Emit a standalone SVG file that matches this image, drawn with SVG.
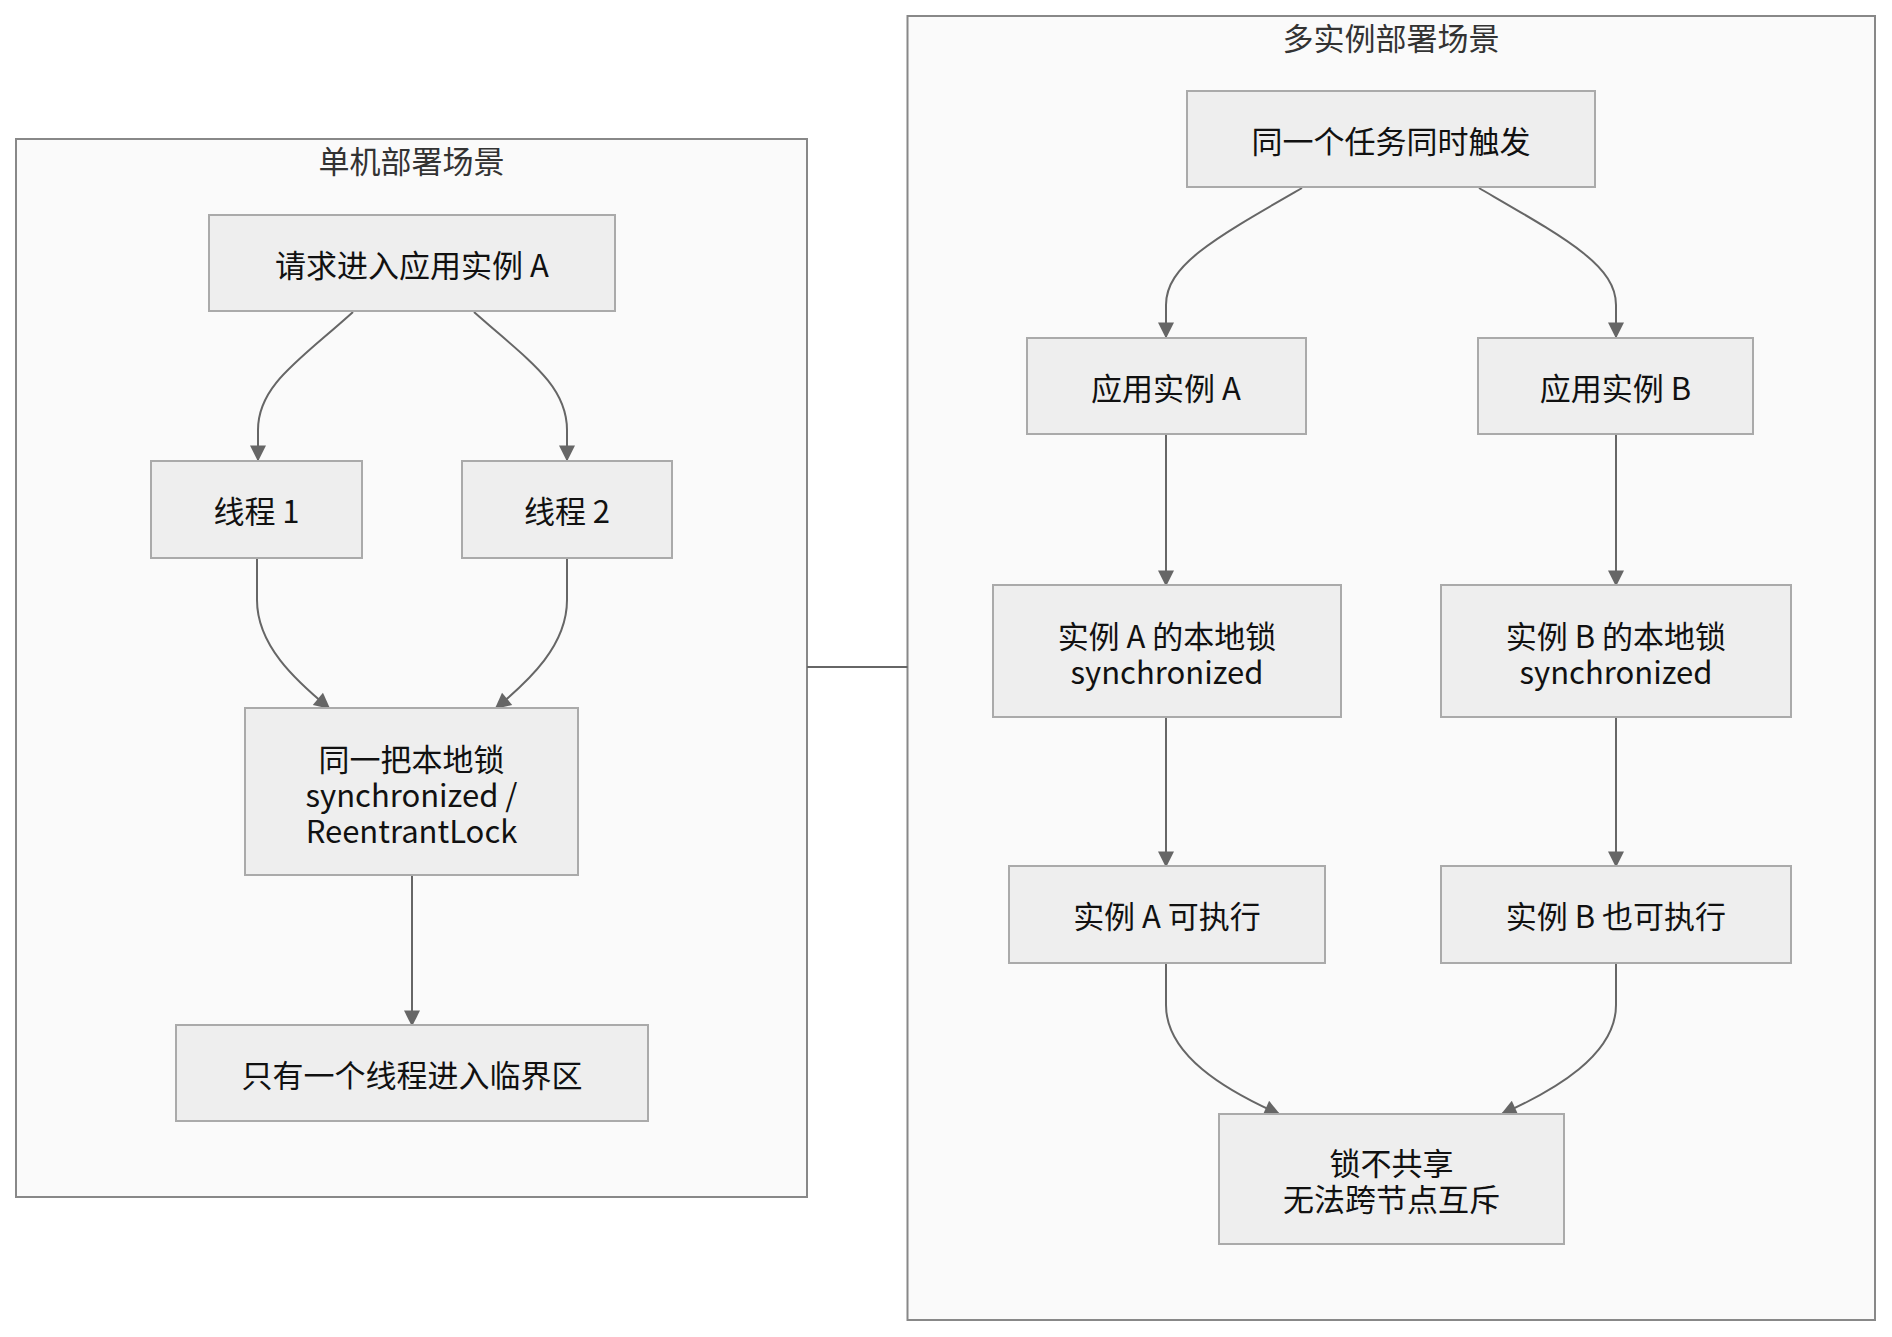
<svg xmlns="http://www.w3.org/2000/svg" width="1892" height="1337" viewBox="0 0 1892 1337">
<style>
.cluster{fill:#fafafa;stroke:#888;stroke-width:2}
.ctitle{font-family:"Noto Sans CJK SC","Noto Sans",sans-serif;font-size:31px;fill:#333;text-anchor:middle;dominant-baseline:central}
.node rect{fill:#eeeeee;stroke:#aaaaaa;stroke-width:2}
.node text{font-family:"Noto Sans CJK SC","Noto Sans",sans-serif;font-size:31px;fill:#111;text-anchor:middle;dominant-baseline:central}
.edge{fill:none;stroke:#666;stroke-width:2;marker-end:url(#arr)}
.link{fill:none;stroke:#666;stroke-width:2}
</style>
<defs>
<marker id="arr" viewBox="0 0 10 10" refX="9" refY="5" markerWidth="18" markerHeight="16" markerUnits="userSpaceOnUse" orient="auto">
<path d="M0,0 L10,5 L0,10 z" fill="#666"/>
</marker>
</defs>
<rect width="1892" height="1337" fill="#ffffff"/>
<g id="cluster-single">
<rect class="cluster" x="16" y="139" width="791" height="1058"/>
<text class="ctitle" x="411.5" y="159">单机部署场景</text>
</g>
<g id="cluster-multi">
<rect class="cluster" x="907.5" y="16" width="967.5" height="1304"/>
<text class="ctitle" x="1391" y="36">多实例部署场景</text>
</g>
<g id="connectors">
<path class="link" d="M807,667 L907.5,667"/>
<path class="edge" d="M353,312 C300,360 258,385 258,430 L258,460"/>
<path class="edge" d="M474,312 C528,360 567,385 567,430 L567,460"/>
<path class="edge" d="M257,558 L257,600 C257,645 295,680 329,708"/>
<path class="edge" d="M567,558 L567,600 C567,645 530,680 496,708"/>
<path class="edge" d="M412,875 L412,1025"/>
<path class="edge" d="M1302,188 C1215,238 1166,265 1166,305 L1166,337"/>
<path class="edge" d="M1479,188 C1565,238 1616,265 1616,305 L1616,337"/>
<path class="edge" d="M1166,434 L1166,585"/>
<path class="edge" d="M1616,434 L1616,585"/>
<path class="edge" d="M1166,717 L1166,866"/>
<path class="edge" d="M1616,717 L1616,866"/>
<path class="edge" d="M1166,963 L1166,1005 C1166,1055 1225,1090 1279,1114"/>
<path class="edge" d="M1616,963 L1616,1005 C1616,1055 1555,1090 1502,1114"/>
</g>
<g id="n-request" class="node">
<rect x="209" y="215" width="406" height="96"/>
<text x="412" y="263">请求进入应用实例 A</text>
</g>
<g id="n-thread1" class="node">
<rect x="151" y="461" width="211" height="97"/>
<text x="256.5" y="509.5">线程 1</text>
</g>
<g id="n-thread2" class="node">
<rect x="462" y="461" width="210" height="97"/>
<text x="567" y="509.5">线程 2</text>
</g>
<g id="n-lock" class="node">
<rect x="245" y="708" width="333" height="167"/>
<text x="411.5" y="757">同一把本地锁</text>
<text x="411.5" y="793">synchronized /</text>
<text x="411.5" y="829">ReentrantLock</text>
</g>
<g id="n-critical" class="node">
<rect x="176" y="1025" width="472" height="96"/>
<text x="412" y="1073">只有一个线程进入临界区</text>
</g>
<g id="n-trigger" class="node">
<rect x="1187" y="91" width="408" height="96"/>
<text x="1391" y="139">同一个任务同时触发</text>
</g>
<g id="n-appA" class="node">
<rect x="1027" y="338" width="279" height="96"/>
<text x="1166" y="386">应用实例 A</text>
</g>
<g id="n-appB" class="node">
<rect x="1478" y="338" width="275" height="96"/>
<text x="1615.5" y="386">应用实例 B</text>
</g>
<g id="n-lockA" class="node">
<rect x="993" y="585" width="348" height="132"/>
<text x="1167" y="634">实例 A 的本地锁</text>
<text x="1167" y="670">synchronized</text>
</g>
<g id="n-lockB" class="node">
<rect x="1441" y="585" width="350" height="132"/>
<text x="1616" y="634">实例 B 的本地锁</text>
<text x="1616" y="670">synchronized</text>
</g>
<g id="n-execA" class="node">
<rect x="1009" y="866" width="316" height="97"/>
<text x="1167" y="914.5">实例 A 可执行</text>
</g>
<g id="n-execB" class="node">
<rect x="1441" y="866" width="350" height="97"/>
<text x="1616" y="914.5">实例 B 也可执行</text>
</g>
<g id="n-result" class="node">
<rect x="1219" y="1114" width="345" height="130"/>
<text x="1391.5" y="1161">锁不共享</text>
<text x="1391.5" y="1197">无法跨节点互斥</text>
</g>
</svg>
